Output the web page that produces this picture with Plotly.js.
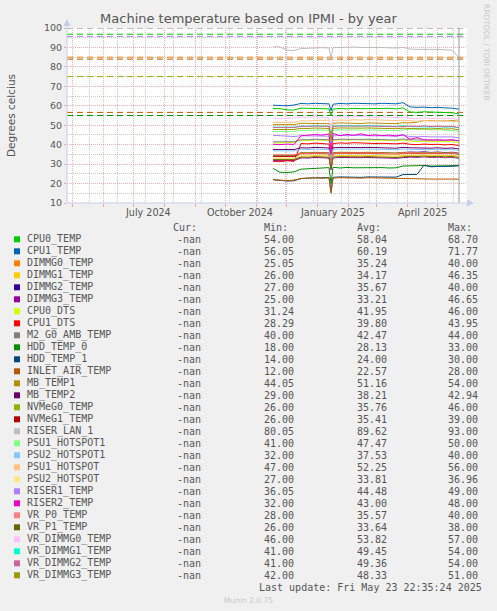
<!DOCTYPE html>
<html>
<head>
<meta charset="utf-8">
<script src="https://cdn.plot.ly/plotly-3.0.1.min.js"></script>
<style>
  html, body { margin: 0; padding: 0; background: #f0f0f0; }
  #myDiv { width: 497px; height: 611px; }
</style>
</head>
<body>
<div id="myDiv"></div>
<script>
//  ======== DATA ========
var dates = ['2024-11-18','2024-11-25','2024-12-02','2024-12-09','2024-12-16','2024-12-23','2024-12-30',
  '2025-01-06','2025-01-13','2025-01-15','2025-01-17','2025-01-24','2025-01-31','2025-02-07','2025-02-14',
  '2025-02-21','2025-02-28','2025-03-07','2025-03-14','2025-03-21','2025-03-28','2025-04-04','2025-04-11',
  '2025-04-18','2025-04-25','2025-05-02','2025-05-09','2025-05-16','2025-05-23'];

var sensors = ['CPU0_TEMP','CPU1_TEMP','DIMMG0_TEMP','DIMMG1_TEMP','DIMMG2_TEMP','DIMMG3_TEMP','CPU0_DTS',
  'CPU1_DTS','M2_G0_AMB_TEMP','HDD_TEMP_0','HDD_TEMP_1','INLET_AIR_TEMP','MB_TEMP1','MB_TEMP2','NVMeG0_TEMP',
  'NVMeG1_TEMP','RISER_LAN_1','PSU1_HOTSPOT1','PSU2_HOTSPOT1','PSU1_HOTSPOT','PSU2_HOTSPOT','RISER1_TEMP',
  'RISER2_TEMP','VR_P0_TEMP','VR_P1_TEMP','VR_DIMMG0_TEMP','VR_DIMMG1_TEMP','VR_DIMMG2_TEMP','VR_DIMMG3_TEMP'];

// munin palette, same order as sensors
var palette = ['#00CC00','#0066B3','#FF8000','#FFCC00','#330099','#990099','#CCFF00','#FF0000','#808080',
  '#008F00','#00487D','#B35A00','#B38F00','#6B006B','#8FB300','#B30000','#BEBEBE','#80FF80','#80C9FF',
  '#FFC080','#FFE680','#AA80FF','#EE00CC','#FF8080','#666600','#FFBFFF','#00FFCC','#CC6699','#999900'];

var cpu0Temp    = [58.6,58.5,57.9,57.8,58.8,58.6,58.7,58.5,58.4,55.0,58.3,58.6,58.4,58.7,58.5,58.6,58.4,58.5,58.7,58.4,58.9,56.8,56.6,56.9,56.7,56.8,56.6,56.4,55.8];
var cpu1Temp    = [60.3,60.2,60.0,60.4,61.2,61.0,61.3,61.1,61.0,57.5,60.8,61.2,61.0,61.3,61.1,61.2,61.0,61.3,61.2,61.0,61.6,59.4,59.2,59.3,59.0,59.2,58.9,58.8,58.2];
var dimmg0Temp  = [33.8,33.7,33.9,33.8,35.3,35.2,35.5,35.3,35.2,28.0,35.3,35.5,35.4,35.6,35.4,35.5,35.3,35.4,35.2,35.1,35.5,35.7,35.6,35.8,35.5,35.7,35.4,35.6,35.1];
var dimmg1Temp  = [32.6,32.5,32.7,32.6,34.2,34.1,34.4,34.2,34.1,28.0,34.2,34.4,34.3,34.5,34.3,34.4,34.2,34.3,34.1,34.0,34.4,34.6,34.5,34.7,34.4,34.6,34.3,34.5,34.0];
var dimmg2Temp  = [34.5,34.4,34.6,34.5,35.8,35.7,36.0,35.8,35.7,30.0,35.8,36.0,35.9,36.1,35.9,36.0,35.8,35.9,35.7,35.6,36.0,36.2,36.1,36.3,36.0,36.2,35.9,36.1,35.6];
var dimmg3Temp  = [31.8,31.7,31.9,31.8,33.2,33.1,33.4,33.2,33.1,27.0,33.2,33.4,33.3,33.5,33.3,33.4,33.2,33.3,33.1,33.0,33.4,33.6,33.5,33.7,33.4,33.6,33.3,33.5,33.0];
var cpu0Dts     = [41.0,40.8,41.2,41.0,42.3,42.1,42.5,42.2,42.0,36.0,42.2,42.5,42.3,42.6,42.4,42.5,42.2,42.3,42.1,42.0,42.4,41.8,41.6,41.8,41.5,41.7,41.4,41.6,41.0];
var cpu1Dts     = [31.5,31.2,31.8,31.4,40.6,40.4,40.8,40.5,40.3,34.0,40.6,40.9,40.7,41.0,40.8,40.9,40.6,40.7,40.5,40.4,40.8,40.2,40.0,40.3,40.1,40.2,39.9,40.1,39.5];
var m2AmbTemp   = [41.5,41.4,41.6,41.5,42.6,42.5,42.8,42.6,42.5,40.0,42.6,42.8,42.7,42.9,42.7,42.8,42.6,42.7,42.5,42.4,42.9,42.5,42.4,42.6,42.3,42.5,42.2,42.4,41.9];
var hddTemp0    = [27.8,25.8,25.7,26.0,27.4,27.6,27.8,28.0,28.2,20.0,28.4,28.0,28.3,28.1,28.2,28.0,28.1,28.2,28.0,28.1,29.0,29.2,29.1,29.3,29.0,29.2,29.1,29.2,29.4];
var hddTemp1    = [22.0,21.5,21.3,21.4,22.6,22.8,23.0,23.2,23.1,16.0,23.2,23.4,23.3,23.5,23.2,23.4,23.3,23.2,23.4,23.3,24.6,24.5,24.7,29.4,28.6,28.8,28.7,28.9,29.1];
var inletAir    = [22.0,21.7,21.5,21.8,22.6,22.8,23.0,22.7,22.9,15.0,22.8,23.0,22.9,23.1,22.8,23.0,22.9,22.8,22.7,22.6,22.4,22.3,22.3,22.3,22.3,22.3,22.3,22.3,22.3];
var mbTemp1     = [50.3,50.2,50.4,50.3,51.0,50.9,51.1,51.0,50.8,46.0,51.0,51.2,51.0,51.1,50.9,51.2,51.0,51.1,50.9,50.8,51.3,51.2,51.6,52.4,52.3,52.5,52.2,52.4,52.0];
var mbTemp2     = [37.5,37.4,37.6,37.5,38.4,38.3,38.6,38.4,38.3,32.0,38.4,38.6,38.5,38.7,38.5,38.6,38.4,38.5,38.3,38.2,38.6,38.4,38.3,38.5,38.2,38.4,38.1,38.3,37.8];
var nvme0Temp   = [34.6,34.5,34.7,34.6,35.9,35.8,36.1,35.9,35.8,29.0,35.9,36.1,36.0,36.2,36.0,36.1,35.9,36.0,35.8,35.7,36.1,36.0,35.9,36.1,35.8,36.0,35.7,35.9,35.4];
var nvme1Temp   = [34.0,33.9,34.1,34.0,35.6,35.5,35.8,35.6,35.5,29.0,35.6,35.8,35.7,35.9,35.7,35.8,35.6,35.7,35.5,35.4,35.8,35.7,35.6,35.8,35.5,35.7,35.4,35.6,35.1];
var riserLan1   = [90.4,90.2,88.6,88.4,89.4,89.6,89.8,89.9,89.7,84.5,89.9,90.1,90.0,90.2,90.0,90.1,89.9,90.0,89.8,89.7,90.0,89.2,89.0,89.1,88.9,89.0,88.8,88.6,84.8];
var psu1Hot1    = [46.8,46.7,46.9,46.8,47.4,47.3,47.6,47.4,47.3,43.0,47.4,47.6,47.5,47.7,47.5,47.6,47.4,47.5,47.3,47.2,47.6,48.0,47.8,48.0,47.6,47.8,47.5,47.3,46.9];
var psu2Hot1    = [36.8,36.7,36.9,36.8,37.6,37.5,37.8,37.6,37.5,33.0,37.6,37.8,37.7,37.9,37.7,37.8,37.6,37.7,37.5,37.4,37.8,37.6,37.5,37.7,37.4,37.6,37.3,37.5,37.0];
var psu1Hot     = [51.5,51.4,51.6,51.5,52.3,52.2,52.5,52.4,52.6,48.0,52.4,52.7,52.5,52.8,52.6,52.9,52.7,52.8,52.5,52.4,52.6,52.3,52.0,52.4,52.2,52.5,52.3,52.1,51.8];
var psu2Hot     = [32.9,32.8,33.0,32.9,33.8,33.7,34.0,33.8,33.7,29.0,33.8,34.0,33.9,34.1,33.9,34.0,33.8,33.9,33.7,33.6,34.0,34.0,33.9,34.1,33.8,34.0,33.7,33.9,33.4];
var riser1Temp  = [44.8,44.6,44.4,44.2,44.6,44.5,44.7,44.5,44.4,38.0,44.5,44.8,44.6,44.9,44.7,44.8,44.5,44.6,44.4,44.3,44.9,44.2,44.0,44.2,44.0,44.1,43.9,44.0,43.5];
var riser2Temp  = [40.2,40.0,40.3,40.1,44.6,44.8,45.2,44.9,45.5,36.0,45.8,44.6,45.3,44.8,45.6,44.7,45.0,44.6,44.9,44.5,45.1,42.8,43.6,42.5,42.4,42.6,42.3,42.5,42.0];
var vrP0Temp    = [34.8,34.7,34.9,34.8,35.6,35.5,35.8,35.6,35.5,30.0,35.6,35.8,35.7,35.9,35.7,35.8,35.6,35.7,35.5,35.4,35.8,35.8,35.7,35.9,35.6,35.8,35.5,35.7,35.2];
var vrP1Temp    = [32.3,32.2,32.4,32.3,33.6,33.5,33.8,33.6,33.5,28.0,33.6,33.8,33.7,33.9,33.7,33.8,33.6,33.7,33.5,33.4,33.8,34.0,33.9,34.1,33.8,34.0,33.7,33.9,33.4];
var vrDimmg0    = [53.5,53.4,53.6,53.8,54.2,54.0,54.3,54.1,54.0,47.0,54.2,54.4,54.1,54.3,54.5,54.2,54.0,54.3,54.1,53.9,54.2,53.6,53.5,53.7,53.4,53.6,53.3,53.5,52.8];
var vrDimmg1    = [49.0,48.9,49.1,49.0,49.6,49.5,49.8,49.6,49.5,44.0,49.6,49.8,49.7,49.9,49.7,49.8,49.6,49.7,49.5,49.4,49.7,49.3,49.2,49.4,49.1,49.3,49.0,49.2,48.6];
var vrDimmg2    = [48.8,48.7,48.9,48.8,49.4,49.3,49.6,49.4,49.3,43.0,49.4,49.6,49.5,49.7,49.5,49.6,49.4,49.5,49.3,49.2,49.5,49.5,49.4,49.6,49.3,49.5,49.2,49.4,48.8];
var vrDimmg3    = [47.8,47.7,47.9,47.8,48.4,48.3,48.6,48.4,48.3,42.0,48.4,48.6,48.5,48.7,48.5,48.6,48.4,48.5,48.3,48.2,48.5,48.3,48.2,48.4,48.1,48.3,48.0,48.2,47.6];

var series = [cpu0Temp, cpu1Temp, dimmg0Temp, dimmg1Temp, dimmg2Temp, dimmg3Temp, cpu0Dts, cpu1Dts,
  m2AmbTemp, hddTemp0, hddTemp1, inletAir, mbTemp1, mbTemp2, nvme0Temp, nvme1Temp, riserLan1,
  psu1Hot1, psu2Hot1, psu1Hot, psu2Hot, riser1Temp, riser2Temp, vrP0Temp, vrP1Temp,
  vrDimmg0, vrDimmg1, vrDimmg2, vrDimmg3];

// legend table
var minValues = [54.00,56.05,25.05,26.00,27.00,25.00,31.24,28.29,40.00,18.00,14.00,12.00,44.05,29.00,26.00,26.00,80.05,41.00,32.00,47.00,27.00,36.05,32.00,28.00,26.00,46.00,41.00,41.00,42.00];
var avgValues = [58.04,60.19,35.24,34.17,35.67,33.21,41.95,39.80,42.47,28.13,24.00,22.57,51.16,38.21,35.76,35.41,89.62,47.47,37.53,52.25,33.81,44.48,43.00,35.57,33.64,53.82,49.45,49.36,48.33];
var maxValues = [68.70,71.77,40.00,46.35,40.00,46.65,46.00,43.95,44.00,33.00,30.00,28.00,54.00,42.94,46.00,39.00,93.00,50.00,40.00,56.00,36.96,49.00,48.00,40.00,38.00,57.00,54.00,54.00,51.00];

// warning / critical levels (dashed)
var thresholdLevels = [100, 96.8, 95.7, 85, 84, 75, 56.6, 55];
var thresholdColors = ['#808080','#00CC00','#AA80FF','#FF8000','#B35A00','#8FB300','#B35A00','#008F00'];

var xRange = ['2024-04-26', '2025-05-31'];
var monthStarts = ['2024-05-01','2024-06-01','2024-07-01','2024-08-01','2024-09-01','2024-10-01','2024-11-01',
  '2024-12-01','2025-01-01','2025-02-01','2025-03-01','2025-04-01','2025-05-01'];
var monthLabelDates = ['2024-07-16','2024-10-16','2025-01-16','2025-04-16'];
var monthLabels = ['July 2024','October 2024','January 2025','April 2025'];
var lastUpdate = '2025-05-23';

//  ======== PLOT ========
var MONO = 'DejaVu Sans Mono, monospace';
var SANS = 'DejaVu Sans, sans-serif';
var TXT = '#555';
var MGRID = 'rgba(230,110,110,0.55)';
var NGRID = 'rgba(180,180,180,0.7)';

// pixel helpers for the area below / around the plot (plot box 67..467 x 28..203)
function px(x) { return (x - 67) / 400; }
function py(y) { return (203 - y) / 175; }

var data = [];
thresholdLevels.forEach(function(lv, i) {
  data.push({
    x: xRange, y: [lv, lv], mode: 'lines', type: 'scatter', hoverinfo: 'skip',
    line: {color: thresholdColors[i], width: 1, dash: '6px,4px'}
  });
});
series.forEach(function(vals, i) {
  data.push({
    x: dates, y: vals, mode: 'lines', type: 'scatter', name: sensors[i],
    line: {color: palette[i], width: 1}
  });
});

var annotations = [];
var shapes = [];

// x labels, centred on their month
monthLabelDates.forEach(function(d, i) {
  annotations.push({
    x: d, xref: 'x', y: py(212), yref: 'paper', text: monthLabels[i], showarrow: false,
    font: {family: SANS, size: 9.6, color: TXT}, xanchor: 'center', yanchor: 'middle'
  });
});

// legend header
var colX = {cur: 171.7, min: 263.3, avg: 355.7, max: 446.7};
[['Cur:', colX.cur], ['Min:', colX.min], ['Avg:', colX.avg], ['Max:', colX.max]].forEach(function(h) {
  annotations.push({
    x: px(h[1]), xref: 'paper', y: py(227.3), yref: 'paper', text: h[0], showarrow: false,
    font: {family: MONO, size: 10, color: TXT}, xanchor: 'left', yanchor: 'middle', borderpad: 0
  });
});

sensors.forEach(function(name, i) {
  var rowY = 239.3 + 12 * i;
  shapes.push({
    type: 'rect', xref: 'paper', yref: 'paper',
    x0: px(14), x1: px(20), y0: py(rowY - 3), y1: py(rowY + 3),
    fillcolor: palette[i], line: {width: 0}
  });
  var cells = [
    [name, 26, 'left'],
    ['-nan', 201.5, 'right'],
    [minValues[i].toFixed(2), colX.min, 'left'],
    [avgValues[i].toFixed(2), colX.avg, 'left'],
    [maxValues[i].toFixed(2), colX.max, 'left']
  ];
  cells.forEach(function(c) {
    annotations.push({
      x: px(c[1]), xref: 'paper', y: py(rowY), yref: 'paper', text: c[0], showarrow: false,
      font: {family: MONO, size: 10, color: TXT}, xanchor: c[2], yanchor: 'middle', borderpad: 0
    });
  });
});

annotations.push({
  x: px(483), xref: 'paper', y: py(587.7), yref: 'paper', text: 'Last update: Fri May 23 22:35:24 2025',
  showarrow: false, font: {family: MONO, size: 10, color: TXT}, xanchor: 'right', yanchor: 'middle', borderpad: 0
});
annotations.push({
  x: px(248), xref: 'paper', y: py(600), yref: 'paper', text: 'Munin 2.0.75',
  showarrow: false, font: {family: SANS, size: 7.5, color: '#c8c8c8'}, xanchor: 'center', yanchor: 'middle'
});
annotations.push({
  x: px(487), xref: 'paper', y: py(52), yref: 'paper', text: 'RRDTOOL / TOBI OETIKER',
  showarrow: false, textangle: 90, font: {family: SANS, size: 7.5, color: '#c8c8c8'},
  xanchor: 'center', yanchor: 'middle'
});

// "now" rule
shapes.push({
  type: 'line', xref: 'x', yref: 'paper', x0: lastUpdate, x1: lastUpdate, y0: 0, y1: 1,
  line: {color: '#999', width: 1}
});
// axis arrows
shapes.push({
  type: 'line', xref: 'paper', yref: 'paper', x0: 0, x1: 0, y0: 0, y1: py(21),
  line: {color: '#c8ccf0', width: 1}
});
shapes.push({
  type: 'line', xref: 'paper', yref: 'paper', x0: 0, x1: px(471), y0: 0, y1: 0,
  line: {color: '#c8ccf0', width: 1}
});
shapes.push({
  type: 'path', xref: 'paper', yref: 'paper',
  path: 'M ' + px(63.5) + ' ' + py(26) + ' L ' + px(67) + ' ' + py(19) + ' L ' + px(70.5) + ' ' + py(26) + ' Z',
  fillcolor: '#c8ccf0', line: {width: 0}
});
shapes.push({
  type: 'path', xref: 'paper', yref: 'paper',
  path: 'M ' + px(467) + ' ' + py(199.5) + ' L ' + px(474) + ' ' + py(203) + ' L ' + px(467) + ' ' + py(206.5) + ' Z',
  fillcolor: '#c8ccf0', line: {width: 0}
});

var layout = {
  width: 497,
  height: 611,
  showlegend: false,
  paper_bgcolor: '#f0f0f0',
  plot_bgcolor: '#ffffff',
  margin: {l: 67, r: 30, t: 28, b: 408, pad: 0},
  title: {
    text: 'Machine temperature based on IPMI - by year',
    font: {family: SANS, size: 13, color: TXT},
    x: 0.5, xref: 'container', xanchor: 'center',
    y: 1 - 18 / 611, yref: 'container', yanchor: 'middle'
  },
  xaxis: {
    type: 'date',
    range: xRange,
    tickmode: 'array',
    tickvals: monthStarts,
    ticktext: monthStarts.map(function() { return ''; }),
    ticks: 'outside', ticklen: 3, tickcolor: MGRID,
    showgrid: true, gridcolor: MGRID, gridwidth: 1, griddash: '1px,1px',
    minor: {
      tick0: '2024-05-18', dtick: 28 * 86400000,
      showgrid: true, gridcolor: NGRID, gridwidth: 1, griddash: '1px,1px'
    },
    zeroline: false, showline: false, fixedrange: true
  },
  yaxis: {
    range: [10, 100],
    tickmode: 'linear', tick0: 10, dtick: 10,
    ticks: 'outside', ticklen: 2, tickcolor: '#bbb',
    tickfont: {family: SANS, size: 9.5, color: TXT},
    showgrid: true, gridcolor: MGRID, gridwidth: 1, griddash: '1px,1px',
    minor: {tick0: 5, dtick: 5, showgrid: true, gridcolor: NGRID, gridwidth: 1, griddash: '1px,1px'},
    zeroline: false, showline: false, fixedrange: true,
    title: {text: 'Degrees celcius', font: {family: SANS, size: 10.5, color: TXT}, standoff: 26}
  },
  annotations: annotations,
  shapes: shapes
};

Plotly.newPlot('myDiv', data, layout, {staticPlot: true});
</script>
</body>
</html>
